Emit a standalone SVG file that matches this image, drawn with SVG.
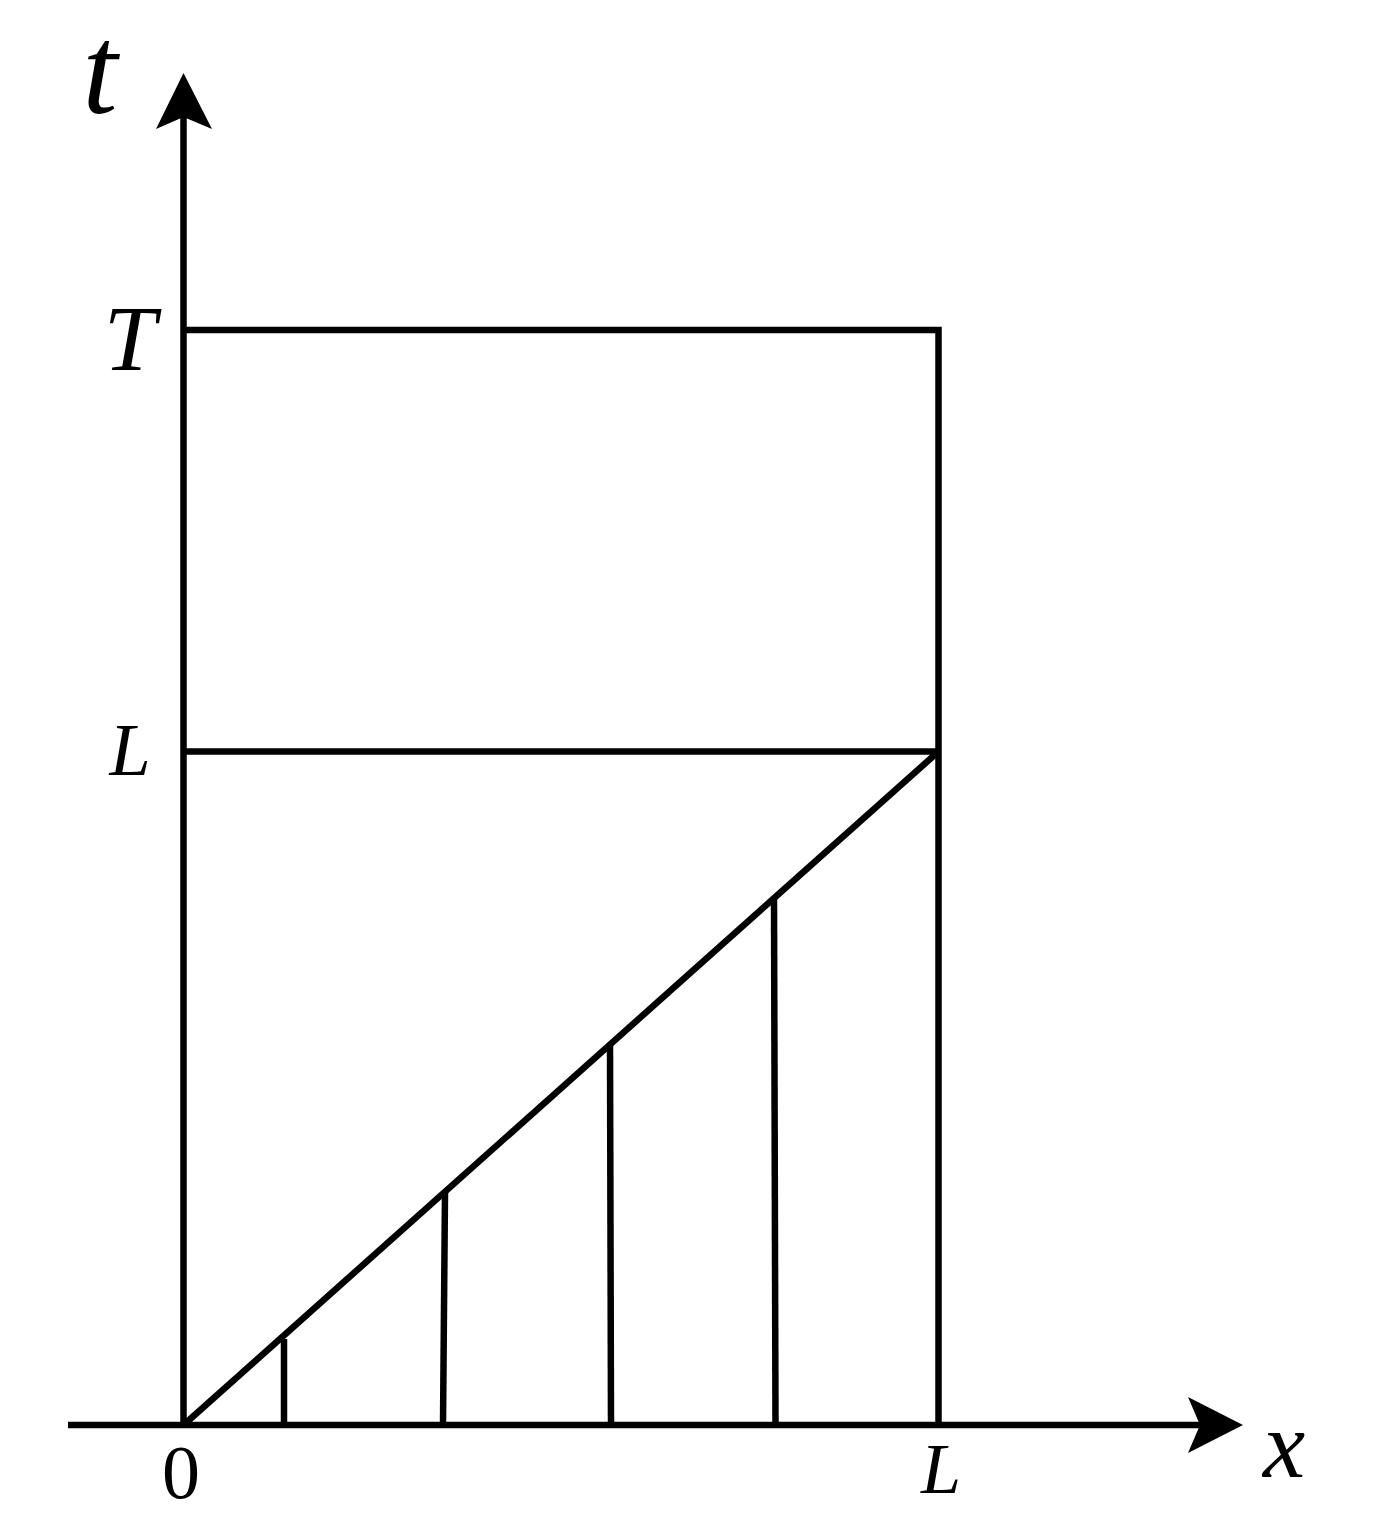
<svg xmlns="http://www.w3.org/2000/svg" width="1376" height="1528" viewBox="0 0 1376 1528">
<style>
.ln{stroke:#000;stroke-width:6.5;fill:none;stroke-linejoin:miter;stroke-linecap:butt}
.lbl{font-family:"Liberation Serif","Times New Roman",serif;font-style:italic;fill:#000;text-anchor:middle}
.num{font-family:"Liberation Serif","Times New Roman",serif;fill:#000;text-anchor:middle}
</style>
<rect width="1376" height="1528" fill="#fff"/>
<g id="axes">
<line class="ln" x1="183.5" y1="1428" x2="183.5" y2="115"/>
<polygon points="183.5,73 156,129 183.5,117 212,129" fill="#000"/>
<line class="ln" x1="68" y1="1425" x2="1202" y2="1425"/>
<polygon points="1243,1425 1188,1397 1200,1425 1188,1453" fill="#000"/>
</g>
<g id="region">
<polyline class="ln" points="183.5,330 938.5,330 938.5,1425"/>
<line class="ln" x1="183.5" y1="751.5" x2="938.5" y2="751.5"/>
<line class="ln" x1="183.5" y1="1425" x2="938.5" y2="751.5"/>
</g>
<g id="segments">
<line class="ln" x1="284" y1="1339" x2="284" y2="1425"/>
<line class="ln" x1="445" y1="1192" x2="443" y2="1425"/>
<line class="ln" x1="610" y1="1045" x2="611" y2="1425"/>
<line class="ln" x1="774" y1="898" x2="775.5" y2="1425"/>
</g>
<g id="labels">
<text class="lbl" x="100" y="113" font-size="126">t</text>
<text class="lbl" x="130" y="370" font-size="94">T</text>
<text class="lbl" x="130" y="775" font-size="74">L</text>
<text class="num" x="181" y="1498" font-size="76">0</text>
<text class="lbl" x="941" y="1493" font-size="72">L</text>
<text class="lbl" x="1284" y="1477" font-size="95">x</text>
</g>
</svg>
